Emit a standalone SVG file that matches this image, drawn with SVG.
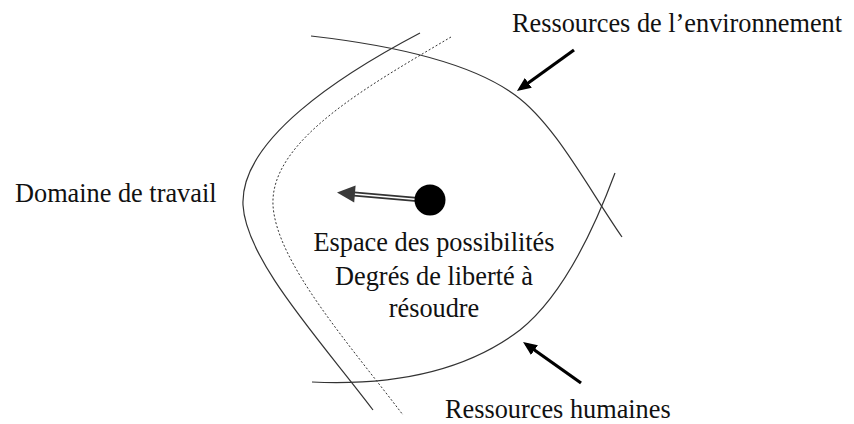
<svg xmlns="http://www.w3.org/2000/svg" width="854" height="424" viewBox="0 0 854 424">
  <defs>
    <style>
      text { font-family: 'Liberation Serif', 'Times New Roman', Times, 'DejaVu Serif', serif; font-size: 26.3px; fill: #111; }
      .curve { fill: none; stroke: #333; stroke-width: 1.2; }
      .dash { fill: none; stroke: #333; stroke-width: 1; stroke-dasharray: 2 2; }
      .thick { stroke: #000; stroke-width: 3.2; fill: none; }
    </style>
    <marker id="head" viewBox="0 0 14 12" refX="10" refY="6" markerWidth="14" markerHeight="12" markerUnits="userSpaceOnUse" orient="auto">
      <path d="M0,0 L14,6 L0,12 z" fill="#000"/>
    </marker>
  </defs>
  <rect width="854" height="424" fill="#fff"/>

  <g id="curves">
    <path id="env-boundary" class="curve" d="M311,36 C390,45 470,62 515,95 C555,124 588,188 622,237"/>
    <path id="work-boundary" class="curve" d="M420,33 C340,75 240,140 243,205 C246,260 320,340 373,410"/>
    <path id="work-dashed" class="dash" d="M451,37 C370,85 270,140 273,205 C276,262 350,345 403,415"/>
    <path id="human-boundary" class="curve" d="M312,382 C400,386 470,368 520,330 C560,298 590,240 615,173"/>
  </g>

  <g id="connectors">
    <line class="thick" x1="574" y1="50" x2="520.2" y2="88.7" marker-end="url(#head)"/>
    <line class="thick" x1="581" y1="383" x2="526.3" y2="344.3" marker-end="url(#head)"/>
    <line x1="354" y1="194" x2="420" y2="199.7" stroke="#333" stroke-width="5"/>
    <line x1="354" y1="194" x2="420" y2="199.7" stroke="#fff" stroke-width="1.6"/>
    <polygon points="337,192.5 355.6,185.5 354.2,202.5" fill="#3a3a3a"/>
  </g>

  <g id="node-dot">
    <circle cx="430" cy="200" r="15.5" fill="#000"/>
  </g>

  <g id="node-env" font-family="Liberation Serif, serif">
    <text x="512" y="32">Ressources de l’environnement</text>
  </g>
  <g id="node-domain" font-family="Liberation Serif, serif">
    <text x="15" y="202">Domaine de travail</text>
  </g>
  <g id="node-space" font-family="Liberation Serif, serif">
    <text x="434" y="251" text-anchor="middle">Espace des possibilités</text>
    <text x="434" y="285" text-anchor="middle">Degrés de liberté à</text>
    <text x="434" y="317" text-anchor="middle">résoudre</text>
  </g>
  <g id="node-human" font-family="Liberation Serif, serif">
    <text x="445" y="418">Ressources humaines</text>
  </g>
</svg>
